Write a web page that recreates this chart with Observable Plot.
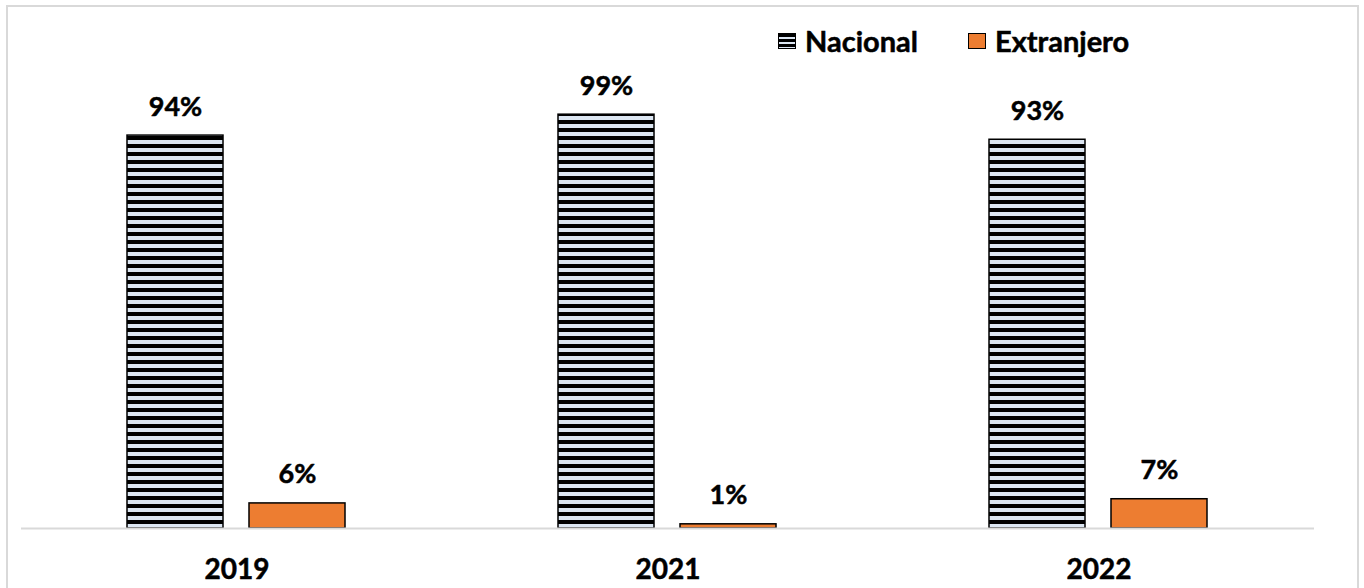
<!DOCTYPE html>
<html>
<head>
<meta charset="utf-8">
<script src="https://cdn.jsdelivr.net/npm/d3@7"></script>
<script src="https://cdn.jsdelivr.net/npm/@observablehq/plot@0.6"></script>
<style>
  html, body { margin: 0; padding: 0; background: #fff; }
  #wrap { position: relative; width: 1364px; height: 588px; overflow: hidden; font-family: Lato, "Open Sans", sans-serif; }
  #border { position: absolute; left: 6px; top: 5px; width: 1353px; height: 620px; border: 2px solid #d9d9d9; box-sizing: border-box; pointer-events: none; }
  #legend { position: absolute; top: 23px; left: 778px; display: flex; align-items: center; font-weight: 700; font-size: 29px; color: #000; -webkit-text-stroke: 0.5px #000; }
  .item { display: flex; align-items: center; }
  .sw { width: 18px; height: 16px; box-sizing: border-box; border: 1.5px solid #000; margin-right: 9px; }
</style>
</head>
<body>
<div id="wrap">
  <div id="chart"></div>
  <div id="border"></div>
  <div id="legend"></div>
</div>
<script>
const years = ["2019", "2021", "2022"];
const series = ["Nacional", "Extranjero"];
const nacional = [94, 99, 93];
const extranjero = [6, 1, 7];
const labels = { Nacional: ["94%", "99%", "93%"], Extranjero: ["6%", "1%", "7%"] };

const fills = { Nacional: "url(#stripes)", Extranjero: "#ed7d31" };

const data = [];
years.forEach((y, i) => {
  data.push({ year: y, series: "Nacional", value: nacional[i], label: labels.Nacional[i] });
  data.push({ year: y, series: "Extranjero", value: extranjero[i], label: labels.Extranjero[i] });
});

const chart = Plot.plot({
  width: 1364,
  height: 588,
  marginTop: 110,
  marginBottom: 60,
  marginLeft: 20,
  marginRight: 49,
  style: { fontFamily: "Lato, 'Open Sans', sans-serif", background: "transparent", overflow: "visible" },
  fx: { domain: years, padding: 0, axis: null },
  x: { domain: series, paddingInner: 0.211, paddingOuter: 0.862, axis: null },
  y: { domain: [0, 100], axis: null },
  marks: [
    Plot.barY(data, {
      fx: "year", x: "series", y: "value",
      fill: d => fills[d.series],
      stroke: "#000", strokeWidth: 1.5
    }),
    Plot.ruleY([0], { stroke: "#d9d9d9", strokeWidth: 2 }),
    Plot.text(data, {
      fx: "year", x: "series", y: "value", text: "label",
      dy: -20, lineAnchor: "bottom", fontSize: 27, fontWeight: 700, fill: "#000",
      stroke: "#000", strokeWidth: 0.5
    }),
    Plot.text(years, {
      fx: d => d, text: d => d, frameAnchor: "bottom", dy: 50,
      fontSize: 28, fontWeight: 700, fill: "#000",
      stroke: "#000", strokeWidth: 0.5
    })
  ]
});

// stripe pattern definition
const svgns = "http://www.w3.org/2000/svg";
const defs = document.createElementNS(svgns, "defs");
defs.innerHTML = `<pattern id="stripes" patternUnits="userSpaceOnUse" x="0" y="0" width="8" height="8">
  <rect width="8" height="8" fill="#dce6f2"/>
  <rect y="0" width="8" height="4" fill="#000"/>
</pattern>`;
chart.insertBefore(defs, chart.firstChild);
document.getElementById("chart").appendChild(chart);

// legend
const legend = document.getElementById("legend");
series.forEach((s, i) => {
  const item = document.createElement("div");
  item.className = "item";
  if (i > 0) item.style.marginLeft = "50px";
  const sw = document.createElement("div");
  sw.className = "sw";
  if (s === "Nacional") {
    sw.style.background = "repeating-linear-gradient(#000 0 3px, #dce6f2 3px 5px)";
  } else {
    sw.style.background = "#ed7d31";
  }
  const t = document.createElement("span");
  t.textContent = s;
  item.appendChild(sw);
  item.appendChild(t);
  legend.appendChild(item);
});
</script>
</body>
</html>
